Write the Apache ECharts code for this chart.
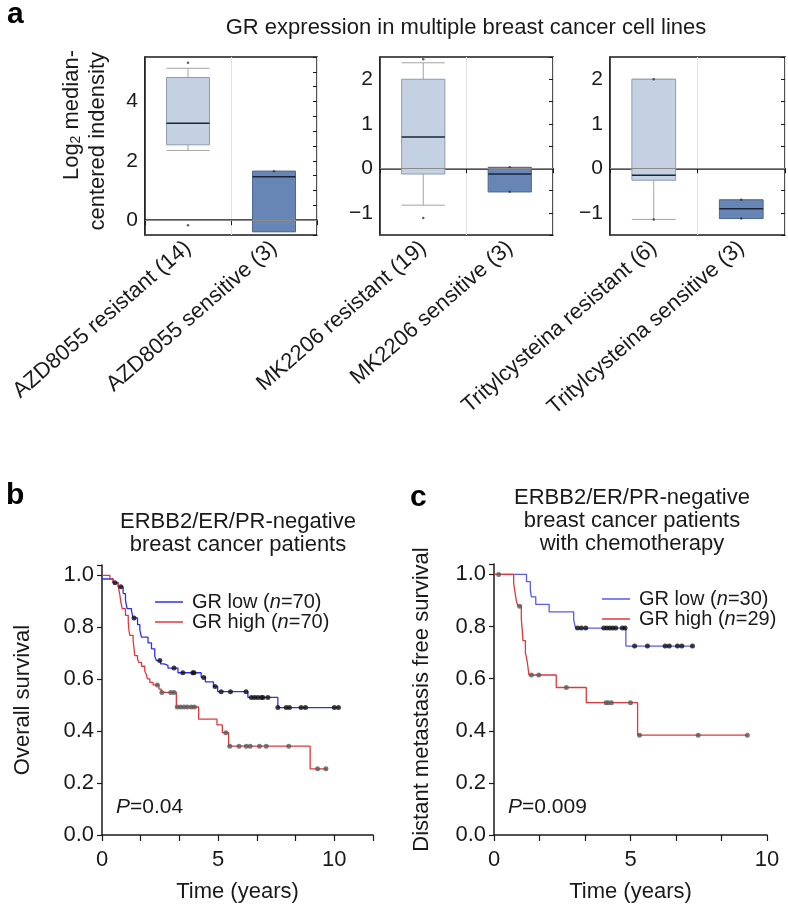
<!DOCTYPE html>
<html>
<head>
<meta charset="utf-8">
<script src="https://cdn.jsdelivr.net/npm/echarts@6/dist/echarts.min.js"></script>
<style>
  html, body { margin: 0; padding: 0; background: #fff; }
  #chart { width: 788px; height: 908px; }
</style>
</head>
<body>
<div id="chart"></div>
<script>
// panel a: box plots, stats are [min, q1, median, q3, max]
var azdCats = ["AZD8055 resistant (14)", "AZD8055 sensitive (3)"];
var mkCats = ["MK2206 resistant (19)", "MK2206 sensitive (3)"];
var tritCats = ["Tritylcysteina resistant (6)", "Tritylcysteina sensitive (3)"];
var azdStats = [[2.35, 2.54, 3.27, 4.81, 5.12], [-0.39, -0.39, 1.46, 1.65, 1.65]];
var mkStats = [[-0.83, -0.13, 0.70, 2.0, 2.37], [-0.53, -0.53, -0.13, 0.02, 0.02]];
var tritStats = [[-1.15, -0.27, -0.16, 2.0, 2.0], [-1.13, -1.13, -0.91, -0.71, -0.71]];
var azdDots = [[0, 5.31], [0, -0.17], [1, 1.65]];
var mkDots = [[0, 2.45], [0, -1.12], [1, 0.02], [1, -0.53]];
var tritDots = [[0, 2.0], [0, -1.15], [1, -0.71], [1, -1.13]];

// panel b: overall survival, [years, survival]
var lowStepsB = [[0, 0.986], [0.48, 0.972], [0.70, 0.956], [0.91, 0.93], [1.01, 0.904], [1.08, 0.872], [1.27, 0.862], [1.34, 0.836], [1.53, 0.81], [1.63, 0.788], [1.70, 0.762], [1.98, 0.74], [2.13, 0.717], [2.27, 0.689], [2.34, 0.672], [2.52, 0.659], [2.67, 0.653], [2.84, 0.643], [3.27, 0.625], [4.27, 0.607], [4.45, 0.59], [4.80, 0.572], [4.98, 0.552], [6.28, 0.53], [7.57, 0.491], [10.2, 0.491]];
var lowCensB = [[0.56, 0.972], [0.81, 0.956], [1.38, 0.836], [2.49, 0.672], [3.10, 0.643], [3.48, 0.625], [3.91, 0.625], [3.96, 0.625], [4.38, 0.607], [4.87, 0.572], [5.13, 0.552], [5.53, 0.552], [6.2, 0.552], [6.43, 0.53], [6.57, 0.53], [6.71, 0.53], [6.86, 0.53], [6.93, 0.53], [7.14, 0.53], [7.57, 0.491], [7.93, 0.491], [8.07, 0.491], [8.57, 0.491], [8.76, 0.491], [10.0, 0.491], [10.18, 0.491]];
var highStepsB = [[0, 1.0], [0.34, 0.986], [0.48, 0.971], [0.70, 0.957], [0.73, 0.943], [0.77, 0.924], [0.81, 0.898], [0.87, 0.872], [1.01, 0.846], [1.13, 0.821], [1.16, 0.788], [1.20, 0.769], [1.34, 0.749], [1.38, 0.717], [1.41, 0.691], [1.53, 0.678], [1.58, 0.665], [1.70, 0.65], [1.84, 0.633], [1.91, 0.617], [1.96, 0.601], [2.06, 0.588], [2.2, 0.578], [2.45, 0.562], [2.55, 0.549], [3.20, 0.493], [4.16, 0.446], [4.95, 0.424], [5.18, 0.394], [5.45, 0.342], [8.96, 0.255], [9.71, 0.255]];
var highCensB = [[2.38, 0.578], [2.58, 0.549], [2.96, 0.549], [3.10, 0.549], [3.24, 0.493], [3.38, 0.493], [3.53, 0.493], [3.67, 0.493], [3.84, 0.493], [3.98, 0.493], [5.33, 0.394], [5.5, 0.342], [5.9, 0.342], [6.21, 0.342], [6.38, 0.342], [6.78, 0.342], [7.07, 0.342], [8.04, 0.342], [9.28, 0.255], [9.64, 0.255]];

// panel c: distant metastasis free survival
var lowStepsC = [[0, 1.0], [1.19, 0.972], [1.33, 0.94], [1.37, 0.914], [1.53, 0.885], [2.02, 0.856], [2.92, 0.824], [2.99, 0.794], [4.83, 0.725], [7.3, 0.725]];
var lowCensC = [[3.06, 0.794], [3.2, 0.794], [3.36, 0.794], [4.02, 0.794], [4.13, 0.794], [4.24, 0.794], [4.35, 0.794], [4.46, 0.794], [4.7, 0.794], [4.8, 0.794], [5.15, 0.725], [5.62, 0.725], [6.27, 0.725], [6.42, 0.725], [6.72, 0.725], [6.88, 0.725], [7.27, 0.725]];
var highStepsC = [[0, 1.0], [0.72, 0.966], [0.77, 0.931], [0.82, 0.897], [0.88, 0.878], [1.0, 0.83], [1.03, 0.793], [1.06, 0.746], [1.15, 0.70], [1.22, 0.663], [1.28, 0.614], [2.28, 0.566], [3.38, 0.508], [5.26, 0.383], [9.3, 0.383]];
var highCensC = [[0.17, 1.0], [0.94, 0.878], [1.37, 0.614], [1.64, 0.614], [2.65, 0.566], [4.1, 0.508], [4.18, 0.508], [4.3, 0.508], [5.0, 0.508], [5.33, 0.383], [7.48, 0.383], [9.28, 0.383]];

var survTicks = [0, 0.2, 0.4, 0.6, 0.8, 1.0];
var yearTicks = [0, 5, 10];

var FONT = "'Liberation Sans', Arial, Helvetica, sans-serif";
var INK = "#1a1a1a";
var myChart = echarts.init(document.getElementById("chart"));

function boxItem(params, api) {
    var i = api.value(0);
    var mid = api.coord([i, api.value(3)]);
    var w = api.size([1, 0])[0] * 0.5;
    var x = mid[0];
    var yMin = api.coord([i, api.value(1)])[1], yQ1 = api.coord([i, api.value(2)])[1];
    var yQ3 = api.coord([i, api.value(4)])[1], yMax = api.coord([i, api.value(5)])[1];
    var fill = i === 0 ? "#c3d1e3" : "#6786b6", edge = i === 0 ? "#8d9cb2" : "#4e6894";
    var wStyle = {stroke: "#a3a3a3", lineWidth: 1};
    return {
        type: "group", children: [
            {type: "line", shape: {x1: x, y1: yMax, x2: x, y2: yQ3}, style: wStyle},
            {type: "line", shape: {x1: x, y1: yQ1, x2: x, y2: yMin}, style: wStyle},
            {type: "line", shape: {x1: x - w / 2, y1: yMax, x2: x + w / 2, y2: yMax}, style: wStyle},
            {type: "line", shape: {x1: x - w / 2, y1: yMin, x2: x + w / 2, y2: yMin}, style: wStyle},
            {type: "rect", shape: {x: x - w / 2, y: yQ3, width: w, height: yQ1 - yQ3}, style: {fill: fill, stroke: edge, lineWidth: 1}},
            {type: "line", shape: {x1: x - w / 2, y1: mid[1], x2: x + w / 2, y2: mid[1]}, style: {stroke: "#1b2535", lineWidth: 1.5}}
        ]
    };
}

function intLabel(step) {
    return function (v) {
        var r = Math.round(v);
        if (Math.abs(v - r) > 1e-6 || r % step !== 0) return "";
        return r < 0 ? "\u2212" + (-r) : String(r);
    };
}

var boxSets = [
    {cats: azdCats, stats: azdStats, dots: azdDots, min: -0.5, max: 5.5, step: 2},
    {cats: mkCats, stats: mkStats, dots: mkDots, min: -1.5, max: 2.5, step: 1},
    {cats: tritCats, stats: tritStats, dots: tritDots, min: -1.5, max: 2.5, step: 1}
];
var gridA = [{left: 145, top: 57, width: 172, height: 178}, {left: 380, top: 57, width: 173, height: 178}, {left: 610, top: 57, width: 175, height: 178}];

var grids = [], xAxes = [], yAxes = [], series = [];
boxSets.forEach(function (set, g) {
    grids.push({left: gridA[g].left, top: gridA[g].top, width: gridA[g].width, height: gridA[g].height, show: true, borderColor: INK, borderWidth: 1.5});
    xAxes.push({
        type: "category", gridIndex: g, data: set.cats,
        axisLine: {lineStyle: {color: INK, width: 1.5}},
        axisTick: {show: true, alignWithLabel: false, length: 5, lineStyle: {color: INK}},
        axisLabel: {interval: 0, rotate: 41, margin: 10, fontSize: 22, color: INK, fontFamily: FONT},
        splitLine: {show: true, lineStyle: {color: "#e3e3e3", width: 1}}
    });
    yAxes.push({
        type: "value", gridIndex: g, min: set.min, max: set.max, interval: 0.5,
        axisLine: {show: true, lineStyle: {color: INK, width: 1.5}},
        axisTick: {inside: true, length: 4, lineStyle: {color: INK}},
        axisLabel: {formatter: intLabel(set.step), fontSize: 21, color: INK, fontFamily: FONT, margin: 7},
        splitLine: {show: false}
    });
});
boxSets.forEach(function (set, g) {
    yAxes.push({
        type: "value", gridIndex: g, position: "right", min: set.min, max: set.max, interval: 0.5,
        axisLine: {show: false}, axisLabel: {show: false}, splitLine: {show: false},
        axisTick: {show: true, inside: true, length: 4, lineStyle: {color: INK}}
    });
    series.push({
        type: "custom", xAxisIndex: g, yAxisIndex: g, renderItem: boxItem,
        encode: {x: 0, y: [1, 2, 3, 4, 5]}, silent: true,
        data: set.stats.map(function (s, i) { return [i].concat(s); }),
        markLine: {silent: true, symbol: "none", label: {show: false}, lineStyle: {color: "#8a8a8a", width: 1, type: "solid"}, data: [{yAxis: 0}]}
    });
    series.push({type: "scatter", xAxisIndex: g, yAxisIndex: g, data: set.dots, symbolSize: 2.5, itemStyle: {color: "#333"}, silent: true});
});

// survival panels
var kmPanels = [
    {grid: {left: 102, top: 565, width: 271, height: 270}, xMax: 35 / 3, name: "Overall survival", gap: 68,
     low: lowStepsB, lowC: lowCensB, high: highStepsB, highC: highCensB, lowName: "GR low (n=70)", highName: "GR high (n=70)", blue: "#2f2ff0"},
    {grid: {left: 494, top: 564, width: 273, height: 271}, xMax: 10, name: "Distant metastasis free survival", gap: 61,
     low: lowStepsC, lowC: lowCensC, high: highStepsC, highC: highCensC, lowName: "GR low (n=30)", highName: "GR high (n=29)", blue: "#5a5aec"}
];
kmPanels.forEach(function (p, k) {
    var gi = 3 + k, yi = 6 + k;
    grids.push(p.grid);
    xAxes.push({
        type: "value", gridIndex: gi, min: 0, max: p.xMax, interval: 5 / 3,
        name: "Time (years)", nameLocation: "middle", nameGap: 46,
        nameTextStyle: {fontSize: 22, color: INK, fontFamily: FONT},
        axisLine: {lineStyle: {color: INK, width: 1.5}},
        axisTick: {length: 6, lineStyle: {color: INK, width: 1.2}},
        axisLabel: {fontSize: 22, color: INK, fontFamily: FONT, margin: 14, formatter: function (v) {
            var r = Math.round(v);
            return Math.abs(v - r) < 1e-6 && yearTicks.indexOf(r) >= 0 ? String(r) : "";
        }},
        splitLine: {show: false}
    });
    yAxes.push({
        type: "value", gridIndex: gi, min: 0, max: 1.04, interval: 0.2,
        name: p.name, nameLocation: "middle", nameGap: p.gap,
        nameTextStyle: {fontSize: 22, color: INK, fontFamily: FONT},
        axisLine: {show: true, lineStyle: {color: INK, width: 1.5}},
        axisTick: {length: 5, lineStyle: {color: INK, width: 1.2}},
        axisLabel: {fontSize: 22, color: INK, fontFamily: FONT, margin: 8, formatter: function (v) {
            for (var i = 0; i < survTicks.length; i++) if (Math.abs(v - survTicks[i]) < 1e-6) return survTicks[i].toFixed(1);
            return "";
        }},
        splitLine: {show: false}
    });
    series.push({name: p.lowName, type: "line", step: "end", xAxisIndex: gi, yAxisIndex: yi, data: p.low, showSymbol: false, color: p.blue, lineStyle: {width: 1.3}, silent: true});
    series.push({name: p.highName, type: "line", step: "end", xAxisIndex: gi, yAxisIndex: yi, data: p.high, showSymbol: false, color: "#e0383b", lineStyle: {width: 1.3}, silent: true});
    series.push({type: "scatter", xAxisIndex: gi, yAxisIndex: yi, data: p.lowC, symbolSize: 5, itemStyle: {color: "#111"}, silent: true, z: 5});
    series.push({type: "scatter", xAxisIndex: gi, yAxisIndex: yi, data: p.highC, symbolSize: 5, itemStyle: {color: "#5a5a5a"}, silent: true, z: 5});
});

function legendFor(names, left, top) {
    return {
        data: names, orient: "vertical", left: left, top: top, itemWidth: 28, itemHeight: 1.5, itemGap: 0, icon: "rect",
        padding: 0, selectedMode: false,
        formatter: function (name) { return name.replace("n=", "{i|n}="); },
        textStyle: {fontSize: 20, lineHeight: 18, color: INK, fontFamily: FONT, padding: [0, 0, 0, 4],
            rich: {i: {fontSize: 20, fontStyle: "italic", color: INK, fontFamily: FONT}}}
    };
}

var option = {
    backgroundColor: "#fff",
    animation: false,
    textStyle: {fontFamily: FONT},
    title: [
        {text: "GR expression in multiple breast cancer cell lines", left: 466, top: 17, textAlign: "center", padding: 0,
         textStyle: {fontSize: 22, fontWeight: "normal", color: INK, fontFamily: FONT}},
        {text: "ERBB2/ER/PR-negative\nbreast cancer patients", left: 238, top: 510, textAlign: "center", padding: 0,
         textStyle: {fontSize: 22, lineHeight: 23, fontWeight: "normal", color: INK, fontFamily: FONT}},
        {text: "ERBB2/ER/PR-negative\nbreast cancer patients\nwith chemotherapy", left: 632, top: 486, textAlign: "center", padding: 0,
         textStyle: {fontSize: 22, lineHeight: 23, fontWeight: "normal", color: INK, fontFamily: FONT}}
    ],
    legend: [legendFor(["GR low (n=70)", "GR high (n=70)"], 155, 592), legendFor(["GR low (n=30)", "GR high (n=29)"], 602, 589)],
    grid: grids,
    xAxis: xAxes,
    yAxis: yAxes,
    series: series,
    graphic: [
        {type: "text", left: 7, top: 0, style: {text: "a", font: "bold 30px " + FONT, fill: "#000"}},
        {type: "text", left: 6, top: 481, style: {text: "b", font: "bold 30px " + FONT, fill: "#000"}},
        {type: "text", left: 410, top: 483, style: {text: "c", font: "bold 30px " + FONT, fill: "#000"}},
        {type: "text", x: 72, y: 50, rotation: Math.PI / 2,
         style: {text: "Log{s|2} median-", fill: INK, font: "22px " + FONT, align: "right", verticalAlign: "middle",
                 rich: {s: {fontSize: 14, fontFamily: FONT, fill: INK, verticalAlign: "bottom", lineHeight: 14}}}},
        {type: "text", x: 98, y: 52, rotation: Math.PI / 2,
         style: {text: "centered indensity", fill: INK, font: "22px " + FONT, align: "right", verticalAlign: "middle"}},
        {type: "text", left: 116, top: 797, style: {text: "{i|P}=0.04", fill: INK, font: "21px " + FONT,
         rich: {i: {fontStyle: "italic", fontSize: 21, fontFamily: FONT, fill: INK}}}},
        {type: "text", left: 508, top: 797, style: {text: "{i|P}=0.009", fill: INK, font: "21px " + FONT,
         rich: {i: {fontStyle: "italic", fontSize: 21, fontFamily: FONT, fill: INK}}}}
    ]
};
myChart.setOption(option);
</script>
</body>
</html>
